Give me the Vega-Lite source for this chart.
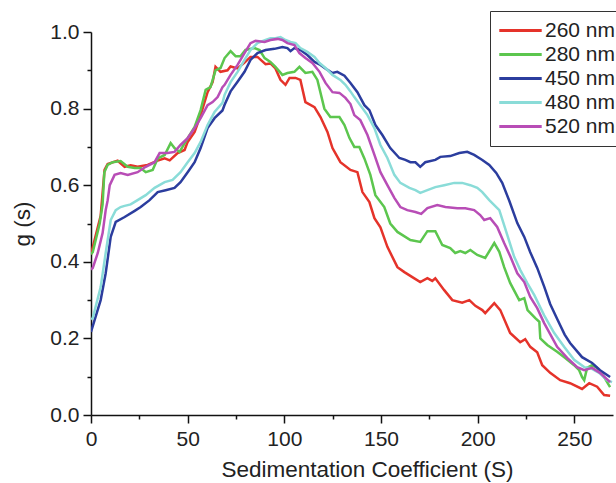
{
  "$schema": "https://vega.github.io/schema/vega-lite/v6.json",
  "autosize": "none",
  "width": 522,
  "height": 383,
  "padding": {"left": 91, "top": 32, "right": 3, "bottom": 68},
  "background": "white",
  "config": {
    "view": {"stroke": null},
    "font": "Liberation Sans",
    "axis": {
      "domainColor": "#111",
      "domainWidth": 1.5,
      "tickColor": "#111",
      "tickWidth": 1.5,
      "labelFont": "Liberation Sans",
      "labelFontSize": 21,
      "labelColor": "#222",
      "titleFont": "Liberation Sans",
      "titleFontSize": 22.5,
      "titleFontWeight": "normal",
      "titleColor": "#222",
      "grid": false
    }
  },
  "data": {
    "values": [
      {"series": "260 nm", "s": 0, "g": 0.42},
      {"series": "260 nm", "s": 1, "g": 0.44},
      {"series": "260 nm", "s": 3.5, "g": 0.49},
      {"series": "260 nm", "s": 5, "g": 0.52},
      {"series": "260 nm", "s": 6, "g": 0.58},
      {"series": "260 nm", "s": 7, "g": 0.64},
      {"series": "260 nm", "s": 8.6, "g": 0.655},
      {"series": "260 nm", "s": 13.8, "g": 0.664},
      {"series": "260 nm", "s": 17.4, "g": 0.648},
      {"series": "260 nm", "s": 20.5, "g": 0.652},
      {"series": "260 nm", "s": 24.1, "g": 0.648},
      {"series": "260 nm", "s": 29.3, "g": 0.653},
      {"series": "260 nm", "s": 34.5, "g": 0.664},
      {"series": "260 nm", "s": 38.1, "g": 0.67},
      {"series": "260 nm", "s": 40.7, "g": 0.665},
      {"series": "260 nm", "s": 44.8, "g": 0.684},
      {"series": "260 nm", "s": 48.4, "g": 0.692},
      {"series": "260 nm", "s": 50, "g": 0.713},
      {"series": "260 nm", "s": 53.6, "g": 0.739},
      {"series": "260 nm", "s": 56.7, "g": 0.783},
      {"series": "260 nm", "s": 60.3, "g": 0.843},
      {"series": "260 nm", "s": 62.9, "g": 0.869},
      {"series": "260 nm", "s": 64.4, "g": 0.909},
      {"series": "260 nm", "s": 67, "g": 0.896},
      {"series": "260 nm", "s": 70.6, "g": 0.9},
      {"series": "260 nm", "s": 72.2, "g": 0.91},
      {"series": "260 nm", "s": 75.8, "g": 0.905},
      {"series": "260 nm", "s": 79.4, "g": 0.92},
      {"series": "260 nm", "s": 82.5, "g": 0.935},
      {"series": "260 nm", "s": 86.1, "g": 0.935},
      {"series": "260 nm", "s": 90.3, "g": 0.916},
      {"series": "260 nm", "s": 92.8, "g": 0.918},
      {"series": "260 nm", "s": 95.4, "g": 0.905},
      {"series": "260 nm", "s": 98, "g": 0.875},
      {"series": "260 nm", "s": 100.6, "g": 0.862},
      {"series": "260 nm", "s": 102.7, "g": 0.88},
      {"series": "260 nm", "s": 105.8, "g": 0.88},
      {"series": "260 nm", "s": 108.3, "g": 0.875},
      {"series": "260 nm", "s": 110.9, "g": 0.817},
      {"series": "260 nm", "s": 115.6, "g": 0.804},
      {"series": "260 nm", "s": 118.7, "g": 0.778},
      {"series": "260 nm", "s": 122.3, "g": 0.739},
      {"series": "260 nm", "s": 124.9, "g": 0.697},
      {"series": "260 nm", "s": 129, "g": 0.66},
      {"series": "260 nm", "s": 134.2, "g": 0.64},
      {"series": "260 nm", "s": 137.8, "g": 0.634},
      {"series": "260 nm", "s": 140.4, "g": 0.582},
      {"series": "260 nm", "s": 144, "g": 0.556},
      {"series": "260 nm", "s": 146.6, "g": 0.514},
      {"series": "260 nm", "s": 149.7, "g": 0.49},
      {"series": "260 nm", "s": 153.3, "g": 0.439},
      {"series": "260 nm", "s": 158.5, "g": 0.386},
      {"series": "260 nm", "s": 162.1, "g": 0.373},
      {"series": "260 nm", "s": 166.2, "g": 0.36},
      {"series": "260 nm", "s": 170.3, "g": 0.347},
      {"series": "260 nm", "s": 174, "g": 0.357},
      {"series": "260 nm", "s": 176.5, "g": 0.35},
      {"series": "260 nm", "s": 178.1, "g": 0.357},
      {"series": "260 nm", "s": 182.7, "g": 0.326},
      {"series": "260 nm", "s": 186.9, "g": 0.3},
      {"series": "260 nm", "s": 192, "g": 0.293},
      {"series": "260 nm", "s": 195.7, "g": 0.3},
      {"series": "260 nm", "s": 198.8, "g": 0.285},
      {"series": "260 nm", "s": 202.4, "g": 0.274},
      {"series": "260 nm", "s": 203.9, "g": 0.266},
      {"series": "260 nm", "s": 208.6, "g": 0.292},
      {"series": "260 nm", "s": 211.7, "g": 0.274},
      {"series": "260 nm", "s": 216.8, "g": 0.214},
      {"series": "260 nm", "s": 222, "g": 0.19},
      {"series": "260 nm", "s": 224.6, "g": 0.198},
      {"series": "260 nm", "s": 227.2, "g": 0.178},
      {"series": "260 nm", "s": 230.8, "g": 0.164},
      {"series": "260 nm", "s": 233.4, "g": 0.13},
      {"series": "260 nm", "s": 237.5, "g": 0.11},
      {"series": "260 nm", "s": 242.7, "g": 0.091},
      {"series": "260 nm", "s": 247.8, "g": 0.083},
      {"series": "260 nm", "s": 254, "g": 0.068},
      {"series": "260 nm", "s": 257.7, "g": 0.083},
      {"series": "260 nm", "s": 261.8, "g": 0.074},
      {"series": "260 nm", "s": 265.4, "g": 0.052},
      {"series": "260 nm", "s": 268.5, "g": 0.05},

      {"series": "280 nm", "s": 0, "g": 0.42},
      {"series": "280 nm", "s": 0.9, "g": 0.425},
      {"series": "280 nm", "s": 4.5, "g": 0.5},
      {"series": "280 nm", "s": 6, "g": 0.55},
      {"series": "280 nm", "s": 6.9, "g": 0.634},
      {"series": "280 nm", "s": 8.6, "g": 0.653},
      {"series": "280 nm", "s": 11.2, "g": 0.66},
      {"series": "280 nm", "s": 15.3, "g": 0.663},
      {"series": "280 nm", "s": 19, "g": 0.648},
      {"series": "280 nm", "s": 22.6, "g": 0.645},
      {"series": "280 nm", "s": 25.7, "g": 0.645},
      {"series": "280 nm", "s": 28.3, "g": 0.634},
      {"series": "280 nm", "s": 31.9, "g": 0.64},
      {"series": "280 nm", "s": 34.5, "g": 0.67},
      {"series": "280 nm", "s": 38.1, "g": 0.679},
      {"series": "280 nm", "s": 41.2, "g": 0.71},
      {"series": "280 nm", "s": 43.2, "g": 0.697},
      {"series": "280 nm", "s": 45.8, "g": 0.687},
      {"series": "280 nm", "s": 50, "g": 0.723},
      {"series": "280 nm", "s": 53.6, "g": 0.752},
      {"series": "280 nm", "s": 56.7, "g": 0.796},
      {"series": "280 nm", "s": 59.3, "g": 0.849},
      {"series": "280 nm", "s": 61.8, "g": 0.856},
      {"series": "280 nm", "s": 64.4, "g": 0.9},
      {"series": "280 nm", "s": 67, "g": 0.906},
      {"series": "280 nm", "s": 69.1, "g": 0.932},
      {"series": "280 nm", "s": 72.2, "g": 0.95},
      {"series": "280 nm", "s": 74.8, "g": 0.937},
      {"series": "280 nm", "s": 77.4, "g": 0.937},
      {"series": "280 nm", "s": 79.9, "g": 0.953},
      {"series": "280 nm", "s": 84.6, "g": 0.958},
      {"series": "280 nm", "s": 87.2, "g": 0.953},
      {"series": "280 nm", "s": 89.8, "g": 0.932},
      {"series": "280 nm", "s": 92.8, "g": 0.922},
      {"series": "280 nm", "s": 95.4, "g": 0.909},
      {"series": "280 nm", "s": 99, "g": 0.888},
      {"series": "280 nm", "s": 101.6, "g": 0.893},
      {"series": "280 nm", "s": 105.2, "g": 0.896},
      {"series": "280 nm", "s": 107.8, "g": 0.909},
      {"series": "280 nm", "s": 110.9, "g": 0.893},
      {"series": "280 nm", "s": 114.5, "g": 0.896},
      {"series": "280 nm", "s": 117.1, "g": 0.875},
      {"series": "280 nm", "s": 120.7, "g": 0.8},
      {"series": "280 nm", "s": 123.8, "g": 0.778},
      {"series": "280 nm", "s": 128.5, "g": 0.778},
      {"series": "280 nm", "s": 131.1, "g": 0.757},
      {"series": "280 nm", "s": 133.7, "g": 0.723},
      {"series": "280 nm", "s": 136.2, "g": 0.7},
      {"series": "280 nm", "s": 138.8, "g": 0.7},
      {"series": "280 nm", "s": 141.4, "g": 0.67},
      {"series": "280 nm", "s": 144.5, "g": 0.627},
      {"series": "280 nm", "s": 147.1, "g": 0.574},
      {"series": "280 nm", "s": 151.7, "g": 0.543},
      {"series": "280 nm", "s": 154.8, "g": 0.5},
      {"series": "280 nm", "s": 158.5, "g": 0.478},
      {"series": "280 nm", "s": 165.2, "g": 0.457},
      {"series": "280 nm", "s": 170.3, "g": 0.452},
      {"series": "280 nm", "s": 174, "g": 0.48},
      {"series": "280 nm", "s": 178.1, "g": 0.48},
      {"series": "280 nm", "s": 181.7, "g": 0.444},
      {"series": "280 nm", "s": 185.8, "g": 0.436},
      {"series": "280 nm", "s": 188.4, "g": 0.423},
      {"series": "280 nm", "s": 191, "g": 0.428},
      {"series": "280 nm", "s": 193.6, "g": 0.423},
      {"series": "280 nm", "s": 196.2, "g": 0.431},
      {"series": "280 nm", "s": 199.8, "g": 0.418},
      {"series": "280 nm", "s": 203.9, "g": 0.41},
      {"series": "280 nm", "s": 208.6, "g": 0.449},
      {"series": "280 nm", "s": 211.2, "g": 0.426},
      {"series": "280 nm", "s": 213.7, "g": 0.386},
      {"series": "280 nm", "s": 216.8, "g": 0.345},
      {"series": "280 nm", "s": 221.5, "g": 0.3},
      {"series": "280 nm", "s": 224.1, "g": 0.305},
      {"series": "280 nm", "s": 225.8, "g": 0.274},
      {"series": "280 nm", "s": 229.8, "g": 0.253},
      {"series": "280 nm", "s": 231.9, "g": 0.243},
      {"series": "280 nm", "s": 232.4, "g": 0.2},
      {"series": "280 nm", "s": 236, "g": 0.183},
      {"series": "280 nm", "s": 241.1, "g": 0.165},
      {"series": "280 nm", "s": 245.3, "g": 0.149},
      {"series": "280 nm", "s": 249.9, "g": 0.13},
      {"series": "280 nm", "s": 252.5, "g": 0.117},
      {"series": "280 nm", "s": 254, "g": 0.099},
      {"series": "280 nm", "s": 255.1, "g": 0.091},
      {"series": "280 nm", "s": 256.6, "g": 0.123},
      {"series": "280 nm", "s": 259.2, "g": 0.13},
      {"series": "280 nm", "s": 261.8, "g": 0.123},
      {"series": "280 nm", "s": 265.4, "g": 0.099},
      {"series": "280 nm", "s": 268.5, "g": 0.073},

      {"series": "450 nm", "s": 0, "g": 0.217},
      {"series": "450 nm", "s": 5, "g": 0.3},
      {"series": "450 nm", "s": 7.6, "g": 0.37},
      {"series": "450 nm", "s": 10.2, "g": 0.465},
      {"series": "450 nm", "s": 12.8, "g": 0.504},
      {"series": "450 nm", "s": 17.4, "g": 0.517},
      {"series": "450 nm", "s": 22.6, "g": 0.533},
      {"series": "450 nm", "s": 25.7, "g": 0.543},
      {"series": "450 nm", "s": 30.3, "g": 0.561},
      {"series": "450 nm", "s": 34.5, "g": 0.582},
      {"series": "450 nm", "s": 38.6, "g": 0.587},
      {"series": "450 nm", "s": 43.2, "g": 0.593},
      {"series": "450 nm", "s": 46.3, "g": 0.608},
      {"series": "450 nm", "s": 50, "g": 0.634},
      {"series": "450 nm", "s": 53.6, "g": 0.66},
      {"series": "450 nm", "s": 56.7, "g": 0.697},
      {"series": "450 nm", "s": 60.3, "g": 0.749},
      {"series": "450 nm", "s": 63.9, "g": 0.775},
      {"series": "450 nm", "s": 68, "g": 0.795},
      {"series": "450 nm", "s": 69.1, "g": 0.81},
      {"series": "450 nm", "s": 72.2, "g": 0.845},
      {"series": "450 nm", "s": 75.8, "g": 0.87},
      {"series": "450 nm", "s": 79.4, "g": 0.896},
      {"series": "450 nm", "s": 82.5, "g": 0.927},
      {"series": "450 nm", "s": 86.1, "g": 0.945},
      {"series": "450 nm", "s": 90.3, "g": 0.953},
      {"series": "450 nm", "s": 94.9, "g": 0.956},
      {"series": "450 nm", "s": 99, "g": 0.961},
      {"series": "450 nm", "s": 101.6, "g": 0.958},
      {"series": "450 nm", "s": 103.2, "g": 0.95},
      {"series": "450 nm", "s": 105.2, "g": 0.958},
      {"series": "450 nm", "s": 108.3, "g": 0.953},
      {"series": "450 nm", "s": 111.9, "g": 0.94},
      {"series": "450 nm", "s": 115.6, "g": 0.922},
      {"series": "450 nm", "s": 118.7, "g": 0.914},
      {"series": "450 nm", "s": 122.3, "g": 0.901},
      {"series": "450 nm", "s": 124.9, "g": 0.893},
      {"series": "450 nm", "s": 127.4, "g": 0.896},
      {"series": "450 nm", "s": 131.1, "g": 0.886},
      {"series": "450 nm", "s": 134.2, "g": 0.867},
      {"series": "450 nm", "s": 137.8, "g": 0.843},
      {"series": "450 nm", "s": 141.4, "g": 0.809},
      {"series": "450 nm", "s": 144, "g": 0.796},
      {"series": "450 nm", "s": 147.1, "g": 0.757},
      {"series": "450 nm", "s": 150.7, "g": 0.731},
      {"series": "450 nm", "s": 154.8, "g": 0.697},
      {"series": "450 nm", "s": 159.5, "g": 0.671},
      {"series": "450 nm", "s": 162.6, "g": 0.666},
      {"series": "450 nm", "s": 165.2, "g": 0.66},
      {"series": "450 nm", "s": 167.8, "g": 0.66},
      {"series": "450 nm", "s": 170.3, "g": 0.648},
      {"series": "450 nm", "s": 172.9, "g": 0.66},
      {"series": "450 nm", "s": 178.1, "g": 0.666},
      {"series": "450 nm", "s": 180.7, "g": 0.674},
      {"series": "450 nm", "s": 185.8, "g": 0.676},
      {"series": "450 nm", "s": 190.5, "g": 0.684},
      {"series": "450 nm", "s": 194.6, "g": 0.687},
      {"series": "450 nm", "s": 198.2, "g": 0.679},
      {"series": "450 nm", "s": 202.4, "g": 0.666},
      {"series": "450 nm", "s": 206, "g": 0.653},
      {"series": "450 nm", "s": 209.6, "g": 0.632},
      {"series": "450 nm", "s": 212.7, "g": 0.606},
      {"series": "450 nm", "s": 216.3, "g": 0.56},
      {"series": "450 nm", "s": 220.5, "g": 0.501},
      {"series": "450 nm", "s": 224.1, "g": 0.465},
      {"series": "450 nm", "s": 227.2, "g": 0.425},
      {"series": "450 nm", "s": 230.8, "g": 0.384},
      {"series": "450 nm", "s": 234.5, "g": 0.334},
      {"series": "450 nm", "s": 237.5, "g": 0.29},
      {"series": "450 nm", "s": 241.2, "g": 0.25},
      {"series": "450 nm", "s": 245, "g": 0.21},
      {"series": "450 nm", "s": 247.8, "g": 0.188},
      {"series": "450 nm", "s": 254, "g": 0.151},
      {"series": "450 nm", "s": 259.2, "g": 0.136},
      {"series": "450 nm", "s": 263.3, "g": 0.117},
      {"series": "450 nm", "s": 268.5, "g": 0.099},

      {"series": "480 nm", "s": 0, "g": 0.25},
      {"series": "480 nm", "s": 0.9, "g": 0.253},
      {"series": "480 nm", "s": 5, "g": 0.334},
      {"series": "480 nm", "s": 7.6, "g": 0.423},
      {"series": "480 nm", "s": 10.2, "g": 0.509},
      {"series": "480 nm", "s": 12.8, "g": 0.535},
      {"series": "480 nm", "s": 15.3, "g": 0.543},
      {"series": "480 nm", "s": 17.4, "g": 0.546},
      {"series": "480 nm", "s": 20.5, "g": 0.55},
      {"series": "480 nm", "s": 24.1, "g": 0.561},
      {"series": "480 nm", "s": 28.3, "g": 0.574},
      {"series": "480 nm", "s": 32.9, "g": 0.593},
      {"series": "480 nm", "s": 38.1, "g": 0.608},
      {"series": "480 nm", "s": 42.2, "g": 0.614},
      {"series": "480 nm", "s": 46.3, "g": 0.634},
      {"series": "480 nm", "s": 50, "g": 0.66},
      {"series": "480 nm", "s": 53.6, "g": 0.684},
      {"series": "480 nm", "s": 56.7, "g": 0.713},
      {"series": "480 nm", "s": 60.3, "g": 0.757},
      {"series": "480 nm", "s": 63.9, "g": 0.791},
      {"series": "480 nm", "s": 68, "g": 0.815},
      {"series": "480 nm", "s": 69.1, "g": 0.836},
      {"series": "480 nm", "s": 72.2, "g": 0.869},
      {"series": "480 nm", "s": 75.8, "g": 0.896},
      {"series": "480 nm", "s": 79.4, "g": 0.927},
      {"series": "480 nm", "s": 82.5, "g": 0.953},
      {"series": "480 nm", "s": 86.1, "g": 0.971},
      {"series": "480 nm", "s": 90.3, "g": 0.979},
      {"series": "480 nm", "s": 92.8, "g": 0.984},
      {"series": "480 nm", "s": 95.4, "g": 0.984},
      {"series": "480 nm", "s": 98, "g": 0.987},
      {"series": "480 nm", "s": 100.6, "g": 0.979},
      {"series": "480 nm", "s": 103.2, "g": 0.974},
      {"series": "480 nm", "s": 105.8, "g": 0.971},
      {"series": "480 nm", "s": 108.3, "g": 0.958},
      {"series": "480 nm", "s": 111.9, "g": 0.948},
      {"series": "480 nm", "s": 115.6, "g": 0.935},
      {"series": "480 nm", "s": 118.2, "g": 0.919},
      {"series": "480 nm", "s": 121.3, "g": 0.906},
      {"series": "480 nm", "s": 124.9, "g": 0.888},
      {"series": "480 nm", "s": 129, "g": 0.875},
      {"series": "480 nm", "s": 131.6, "g": 0.862},
      {"series": "480 nm", "s": 134.2, "g": 0.845},
      {"series": "480 nm", "s": 136.2, "g": 0.83},
      {"series": "480 nm", "s": 139.3, "g": 0.809},
      {"series": "480 nm", "s": 143, "g": 0.783},
      {"series": "480 nm", "s": 146.6, "g": 0.749},
      {"series": "480 nm", "s": 149.7, "g": 0.705},
      {"series": "480 nm", "s": 153.3, "g": 0.671},
      {"series": "480 nm", "s": 156.9, "g": 0.627},
      {"series": "480 nm", "s": 160, "g": 0.606},
      {"series": "480 nm", "s": 164.7, "g": 0.593},
      {"series": "480 nm", "s": 167.8, "g": 0.587},
      {"series": "480 nm", "s": 170.3, "g": 0.58},
      {"series": "480 nm", "s": 174, "g": 0.587},
      {"series": "480 nm", "s": 178.1, "g": 0.595},
      {"series": "480 nm", "s": 182.7, "g": 0.6},
      {"series": "480 nm", "s": 187.9, "g": 0.606},
      {"series": "480 nm", "s": 192, "g": 0.606},
      {"series": "480 nm", "s": 196.2, "g": 0.6},
      {"series": "480 nm", "s": 199.8, "g": 0.593},
      {"series": "480 nm", "s": 202.4, "g": 0.582},
      {"series": "480 nm", "s": 206, "g": 0.561},
      {"series": "480 nm", "s": 211.2, "g": 0.535},
      {"series": "480 nm", "s": 215.3, "g": 0.47},
      {"series": "480 nm", "s": 218.9, "g": 0.413},
      {"series": "480 nm", "s": 222, "g": 0.379},
      {"series": "480 nm", "s": 225.6, "g": 0.345},
      {"series": "480 nm", "s": 229.3, "g": 0.313},
      {"series": "480 nm", "s": 234.4, "g": 0.26},
      {"series": "480 nm", "s": 239.6, "g": 0.214},
      {"series": "480 nm", "s": 244.7, "g": 0.178},
      {"series": "480 nm", "s": 249.9, "g": 0.144},
      {"series": "480 nm", "s": 255.1, "g": 0.125},
      {"series": "480 nm", "s": 258.2, "g": 0.123},
      {"series": "480 nm", "s": 262.8, "g": 0.11},
      {"series": "480 nm", "s": 266.9, "g": 0.091},
      {"series": "480 nm", "s": 269.5, "g": 0.086},

      {"series": "520 nm", "s": 0, "g": 0.38},
      {"series": "520 nm", "s": 0.9, "g": 0.384},
      {"series": "520 nm", "s": 3.5, "g": 0.423},
      {"series": "520 nm", "s": 6, "g": 0.475},
      {"series": "520 nm", "s": 7.6, "g": 0.535},
      {"series": "520 nm", "s": 8.6, "g": 0.56},
      {"series": "520 nm", "s": 9.7, "g": 0.6},
      {"series": "520 nm", "s": 12.2, "g": 0.627},
      {"series": "520 nm", "s": 15.3, "g": 0.632},
      {"series": "520 nm", "s": 19, "g": 0.627},
      {"series": "520 nm", "s": 24.1, "g": 0.634},
      {"series": "520 nm", "s": 28.3, "g": 0.648},
      {"series": "520 nm", "s": 32.9, "g": 0.66},
      {"series": "520 nm", "s": 35.5, "g": 0.684},
      {"series": "520 nm", "s": 39.6, "g": 0.684},
      {"series": "520 nm", "s": 43.2, "g": 0.687},
      {"series": "520 nm", "s": 46.3, "g": 0.705},
      {"series": "520 nm", "s": 50, "g": 0.723},
      {"series": "520 nm", "s": 53.6, "g": 0.749},
      {"series": "520 nm", "s": 56.7, "g": 0.775},
      {"series": "520 nm", "s": 60.3, "g": 0.809},
      {"series": "520 nm", "s": 62.9, "g": 0.817},
      {"series": "520 nm", "s": 65.5, "g": 0.83},
      {"series": "520 nm", "s": 68, "g": 0.856},
      {"series": "520 nm", "s": 69.1, "g": 0.862},
      {"series": "520 nm", "s": 72.2, "g": 0.888},
      {"series": "520 nm", "s": 75.8, "g": 0.914},
      {"series": "520 nm", "s": 79.4, "g": 0.945},
      {"series": "520 nm", "s": 82.5, "g": 0.971},
      {"series": "520 nm", "s": 85.1, "g": 0.977},
      {"series": "520 nm", "s": 89.8, "g": 0.974},
      {"series": "520 nm", "s": 92.8, "g": 0.979},
      {"series": "520 nm", "s": 96.5, "g": 0.982},
      {"series": "520 nm", "s": 99, "g": 0.979},
      {"series": "520 nm", "s": 101.6, "g": 0.971},
      {"series": "520 nm", "s": 105.2, "g": 0.966},
      {"series": "520 nm", "s": 107.8, "g": 0.945},
      {"series": "520 nm", "s": 110.9, "g": 0.932},
      {"series": "520 nm", "s": 114.5, "g": 0.919},
      {"series": "520 nm", "s": 118.2, "g": 0.896},
      {"series": "520 nm", "s": 121.3, "g": 0.867},
      {"series": "520 nm", "s": 124.9, "g": 0.843},
      {"series": "520 nm", "s": 128.5, "g": 0.841},
      {"series": "520 nm", "s": 131.6, "g": 0.828},
      {"series": "520 nm", "s": 134.2, "g": 0.812},
      {"series": "520 nm", "s": 136.2, "g": 0.783},
      {"series": "520 nm", "s": 139.3, "g": 0.77},
      {"series": "520 nm", "s": 143, "g": 0.731},
      {"series": "520 nm", "s": 146.6, "g": 0.679},
      {"series": "520 nm", "s": 149.7, "g": 0.634},
      {"series": "520 nm", "s": 153.3, "g": 0.6},
      {"series": "520 nm", "s": 156.9, "g": 0.567},
      {"series": "520 nm", "s": 160, "g": 0.543},
      {"series": "520 nm", "s": 163.6, "g": 0.535},
      {"series": "520 nm", "s": 167.8, "g": 0.53},
      {"series": "520 nm", "s": 170.8, "g": 0.525},
      {"series": "520 nm", "s": 174, "g": 0.54},
      {"series": "520 nm", "s": 179.1, "g": 0.548},
      {"series": "520 nm", "s": 183.3, "g": 0.543},
      {"series": "520 nm", "s": 189.5, "g": 0.54},
      {"series": "520 nm", "s": 193.6, "g": 0.54},
      {"series": "520 nm", "s": 198.2, "g": 0.535},
      {"series": "520 nm", "s": 201.3, "g": 0.522},
      {"series": "520 nm", "s": 203.4, "g": 0.509},
      {"series": "520 nm", "s": 206.5, "g": 0.514},
      {"series": "520 nm", "s": 210.1, "g": 0.491},
      {"series": "520 nm", "s": 213.7, "g": 0.449},
      {"series": "520 nm", "s": 216.8, "g": 0.415},
      {"series": "520 nm", "s": 220.5, "g": 0.37},
      {"series": "520 nm", "s": 224.1, "g": 0.347},
      {"series": "520 nm", "s": 227.2, "g": 0.308},
      {"series": "520 nm", "s": 230.8, "g": 0.279},
      {"series": "520 nm", "s": 234.4, "g": 0.24},
      {"series": "520 nm", "s": 241.1, "g": 0.178},
      {"series": "520 nm", "s": 246.3, "g": 0.149},
      {"series": "520 nm", "s": 251.5, "g": 0.125},
      {"series": "520 nm", "s": 255.1, "g": 0.117},
      {"series": "520 nm", "s": 259.2, "g": 0.123},
      {"series": "520 nm", "s": 263.3, "g": 0.11},
      {"series": "520 nm", "s": 268.5, "g": 0.086}
    ]
  },
  "mark": {"type": "line", "strokeWidth": 2.5, "clip": true},
  "encoding": {
    "x": {
      "field": "s",
      "type": "quantitative",
      "scale": {"domain": [0, 270], "nice": false, "zero": false},
      "axis": {
        "title": "Sedimentation Coefficient (S)",
        "titleX": 276,
        "titleAnchor": "middle",
        "values": [0, 25, 50, 75, 100, 125, 150, 175, 200, 225, 250],
        "labelExpr": "datum.value % 50 === 0 ? datum.label : ''",
        "tickSize": {"condition": {"test": "datum.value % 50 === 0", "value": 8}, "value": 4},
        "labelPadding": 5,
        "titlePadding": 9,
        "labelFlush": false,
        "labelOverlap": false
      }
    },
    "y": {
      "field": "g",
      "type": "quantitative",
      "scale": {"domain": [0, 1], "nice": false},
      "axis": {
        "title": "g (s)",
        "values": [0, 0.1, 0.2, 0.3, 0.4, 0.5, 0.6, 0.7, 0.8, 0.9, 1.0],
        "labelExpr": "round(datum.value * 10) % 2 === 0 ? format(datum.value, '.1f') : ''",
        "tickSize": {"condition": {"test": "round(datum.value * 10) % 2 === 0", "value": 8}, "value": 4},
        "labelPadding": 4,
        "titlePadding": 15,
        "labelFlush": false,
        "labelOverlap": false
      }
    },
    "color": {
      "field": "series",
      "type": "nominal",
      "scale": {
        "domain": ["260 nm", "280 nm", "450 nm", "480 nm", "520 nm"],
        "range": ["#e5332a", "#5cc64e", "#2b3d9e", "#8adcd8", "#b84db6"]
      },
      "legend": {
        "title": null,
        "orient": "none",
        "legendX": 399,
        "legendY": -21,
        "strokeColor": "#333",
        "fillColor": "white",
        "padding": 9,
        "symbolType": "M-3,0H3",
        "symbolSize": 200,
        "symbolStrokeWidth": 3,
        "symbolOffset": 11,
        "labelOffset": 14,
        "labelFont": "Liberation Sans",
        "labelFontSize": 21,
        "labelColor": "#222",
        "rowPadding": 2,
        "labelLimit": 300
      }
    }
  }
}
